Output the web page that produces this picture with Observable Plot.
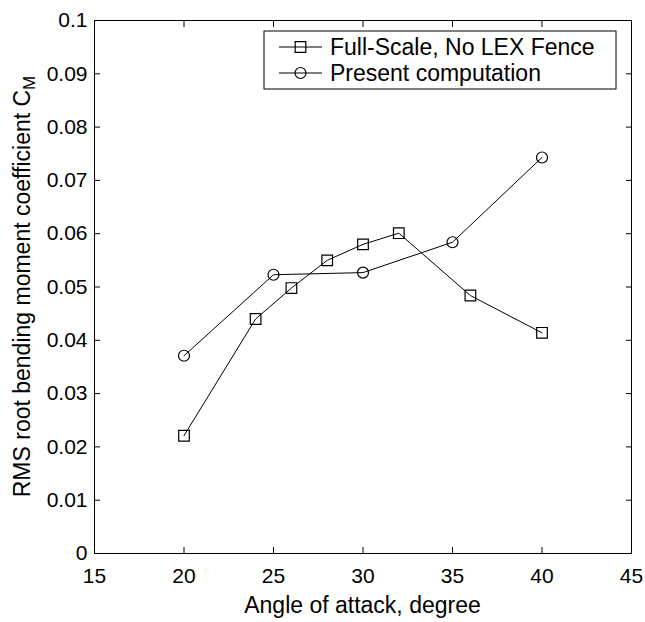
<!DOCTYPE html>
<html><head><meta charset="utf-8">
<script src="https://cdn.jsdelivr.net/npm/d3@7"></script>
<script src="https://cdn.jsdelivr.net/npm/@observablehq/plot@0.6"></script>
<style>
body{margin:0;background:#fff;}
#chart svg{font-family:"Liberation Sans",Arial,sans-serif;}
</style></head><body><div id="chart"></div>
<script>
const fullScaleAlpha = [20, 24, 26, 28, 30, 32, 36, 40];
const fullScaleCM = [0.0221, 0.0440, 0.0498, 0.0550, 0.0580, 0.0601, 0.0484, 0.0414];
const computationAlpha = [20, 25, 30, 35, 40];
const computationCM = [0.0371, 0.0523, 0.0527, 0.0584, 0.0743];
const xTicks = [15, 20, 25, 30, 35, 40, 45];
const yTicks = [0, 0.01, 0.02, 0.03, 0.04, 0.05, 0.06, 0.07, 0.08, 0.09, 0.1];
const yTickLabels = ["0", "0.01", "0.02", "0.03", "0.04", "0.05", "0.06", "0.07", "0.08", "0.09", "0.1"];
const seriesNames = ["Full-Scale, No LEX Fence", "Present computation"];
const seriesSymbols = ["square", "circle"];
const xLabel = "Angle of attack, degree";
const yLabelMain = "RMS root bending moment coefficient C";
const yLabelSub = "M";

const full = fullScaleAlpha.map((a, i) => ({alpha: a, cm: fullScaleCM[i]}));
const comp = computationAlpha.map((a, i) => ({alpha: a, cm: computationCM[i]}));
const ff = '"Liberation Sans", Arial, sans-serif';
const tickFont = 21, labelFont = 23;
const blank = () => "";

const plot = Plot.plot({
  width: 645, height: 622,
  marginLeft: 94, marginRight: 14, marginTop: 20, marginBottom: 69,
  style: {fontFamily: ff, fontSize: tickFont + "px", color: "black", background: "white", overflow: "visible"},
  x: {domain: [15, 45], ticks: xTicks, label: null},
  y: {domain: [0, 0.1], ticks: yTicks, label: null},
  marks: [
    Plot.frame({stroke: "black", strokeWidth: 1}),
    Plot.axisX({anchor: "bottom", ticks: xTicks, tickSize: 0, tickPadding: 15, tickFormat: d => String(d), label: null, fontSize: tickFont}),
    Plot.axisX({anchor: "bottom", ticks: xTicks, tickSize: -6, tickFormat: blank, label: null}),
    Plot.axisX({anchor: "top", ticks: xTicks, tickSize: -6, tickFormat: blank, label: null}),
    Plot.axisY({anchor: "left", ticks: yTicks, tickSize: 0, tickPadding: 7, tickFormat: (d, i) => yTickLabels[i], label: null, fontSize: tickFont}),
    Plot.axisY({anchor: "left", ticks: yTicks, tickSize: -6, tickFormat: blank, label: null}),
    Plot.axisY({anchor: "right", ticks: yTicks, tickSize: -6, tickFormat: blank, label: null}),
    Plot.line(full, {x: "alpha", y: "cm", stroke: "black", strokeWidth: 1}),
    Plot.dot(full, {x: "alpha", y: "cm", symbol: seriesSymbols[0], r: 6, stroke: "black", fill: "none", strokeWidth: 1.2}),
    Plot.line(comp, {x: "alpha", y: "cm", stroke: "black", strokeWidth: 1}),
    Plot.dot(comp, {x: "alpha", y: "cm", symbol: seriesSymbols[1], r: 5.5, stroke: "black", fill: "none", strokeWidth: 1.2})
  ]
});
document.getElementById("chart").appendChild(plot);

const svg = d3.select(plot);
const xr = plot.scale("x").range, yr = plot.scale("y").range;
const cx = (xr[0] + xr[1]) / 2, cy = (yr[0] + yr[1]) / 2;

// x label
svg.append("text").attr("x", cx).attr("y", 613).attr("text-anchor", "middle")
  .attr("font-family", ff).attr("font-size", labelFont).attr("fill", "black").text(xLabel);
// y label
const yl = svg.append("text").attr("transform", `translate(30,${cy}) rotate(-90)`).attr("text-anchor", "middle")
  .attr("font-family", ff).attr("font-size", labelFont).attr("fill", "black");
yl.append("tspan").text(yLabelMain);
yl.append("tspan").attr("font-size", 17).attr("dy", "0.3em").text(yLabelSub);

// legend
const lg = svg.append("g");
const lx = 264, ly = 31, lw = 352, lh = 58;
lg.append("rect").attr("x", lx).attr("y", ly).attr("width", lw).attr("height", lh)
  .attr("fill", "white").attr("stroke", "black").attr("stroke-width", 1);
const rowY = [47, 73];
const symGen = {square: d3.symbol(d3.symbolSquare, Math.PI * 36), circle: d3.symbol(d3.symbolCircle, Math.PI * 30.25)};
seriesNames.forEach((name, i) => {
  const y = rowY[i];
  lg.append("line").attr("x1", lx + 15).attr("x2", lx + 58).attr("y1", y).attr("y2", y).attr("stroke", "black");
  lg.append("path").attr("d", symGen[seriesSymbols[i]]()).attr("transform", `translate(${lx + 36.5},${y})`)
    .attr("fill", "none").attr("stroke", "black").attr("stroke-width", 1.2);
  lg.append("text").attr("x", lx + 66).attr("y", y).attr("dy", "0.35em").attr("text-anchor", "start")
    .attr("font-family", ff).attr("font-size", labelFont).attr("fill", "black").text(name);
});
</script></body></html>
